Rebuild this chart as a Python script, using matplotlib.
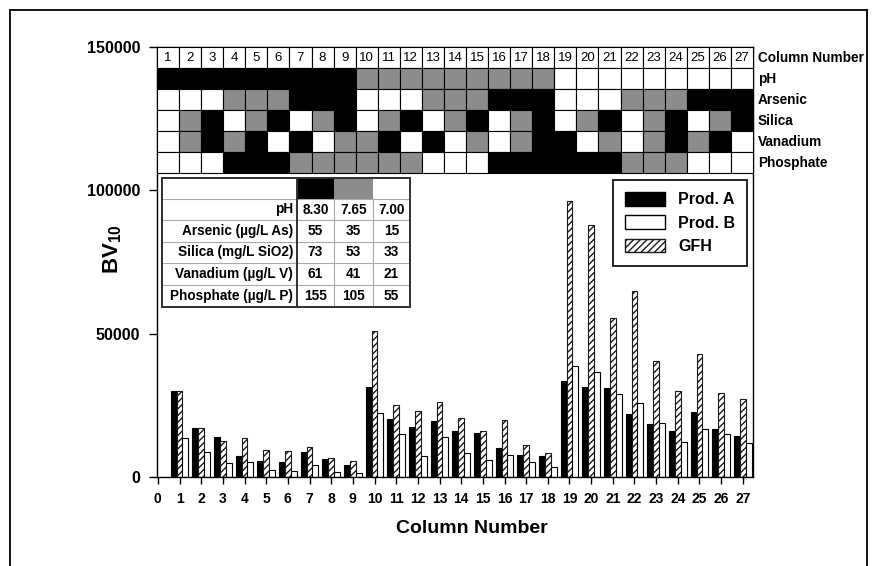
import matplotlib
matplotlib.use('Agg')
import matplotlib.pyplot as plt
import matplotlib.transforms as mtransforms
from matplotlib.patches import Rectangle, Patch
from matplotlib.lines import Line2D
import numpy as np

plt.rcParams['font.family'] = ['Liberation Sans', 'DejaVu Sans']
plt.rcParams['hatch.linewidth'] = 1.0
plt.rcParams['mathtext.default'] = 'regular'

# bar data (BV10)
columns = list(range(1, 28))
prod_a = [30100, 17200, 14100, 7300, 5700, 5100, 8600, 6200, 4100,
          31500, 20100, 17600, 19400, 16200, 15200, 10200, 7700, 7300,
          33500, 31300, 30900, 22000, 18400, 16200, 22700, 16700, 14300]
gfh = [30100, 17200, 12700, 13500, 9400, 9200, 10400, 6700, 5600,
       51000, 25200, 23100, 26300, 20700, 16000, 19900, 11200, 8500,
       96300, 87900, 55300, 65000, 40500, 30000, 42800, 29400, 27200]
prod_b = [13500, 8800, 4800, 5100, 2400, 2200, 4300, 1700, 1400,
          22200, 15000, 7300, 14100, 8500, 5900, 7800, 5100, 3400,
          38800, 36700, 29100, 25900, 18700, 12200, 16700, 15000, 11700]

# design matrix: 2 = high (black), 1 = mid (grey), 0 = low (white)
factors = ['pH', 'Arsenic', 'Silica', 'Vanadium', 'Phosphate']
ph =        [2, 2, 2, 2, 2, 2, 2, 2, 2, 1, 1, 1, 1, 1, 1, 1, 1, 1, 0, 0, 0, 0, 0, 0, 0, 0, 0]
arsenic =   [0, 0, 0, 1, 1, 1, 2, 2, 2, 0, 0, 0, 1, 1, 1, 2, 2, 2, 0, 0, 0, 1, 1, 1, 2, 2, 2]
silica =    [0, 1, 2, 0, 1, 2, 0, 1, 2, 0, 1, 2, 0, 1, 2, 0, 1, 2, 0, 1, 2, 0, 1, 2, 0, 1, 2]
vanadium =  [0, 1, 2, 1, 2, 0, 2, 0, 1, 1, 2, 0, 2, 0, 1, 0, 1, 2, 2, 0, 1, 0, 1, 2, 1, 2, 0]
phosphate = [0, 0, 0, 2, 2, 2, 1, 1, 1, 1, 1, 1, 0, 0, 0, 2, 2, 2, 2, 2, 2, 1, 1, 1, 0, 0, 0]
levels = [ph, arsenic, silica, vanadium, phosphate]

# inset table
table_rows = ['pH', 'Arsenic (\u00b5g/L As)', 'Silica (mg/L SiO2)',
              'Vanadium (\u00b5g/L V)', 'Phosphate (\u00b5g/L P)']
table_vals = [['8.30', '7.65', '7.00'],
              ['55', '35', '15'],
              ['73', '53', '33'],
              ['61', '41', '21'],
              ['155', '105', '55']]

level_colors = {2: 'black', 1: '#8c8c8c', 0: 'white'}

W, H = 873, 566
fig = plt.figure(figsize=(W / 100, H / 100), dpi=100)
ax = fig.add_axes([157 / W, 1 - 477 / H, 596 / W, 430 / H])

x = np.array(columns)
w = 0.27
ax.bar(x - w, prod_a, w, color='black', edgecolor='black', linewidth=0.8, zorder=2)
ax.bar(x, gfh, w, color='white', edgecolor='#1a1a1a', hatch='/////', linewidth=0.8, zorder=2)
ax.bar(x + w, prod_b, w, color='white', edgecolor='black', linewidth=0.8, zorder=2)

ax.set_xlim(-0.04, 27.47)
ax.set_ylim(0, 150000)
ax.set_xticks(range(0, 28))
ax.set_xticklabels([str(i) for i in range(0, 28)], fontsize=10, fontweight='bold')
ax.set_yticks([0, 50000, 100000, 150000])
ax.set_yticklabels(['0', '50000', '100000', '150000'], fontsize=11.5, fontweight='bold')
ax.tick_params(axis='x', direction='out', length=5, width=1, pad=6)
ax.tick_params(axis='y', direction='out', length=6, width=1, pad=6)
for s in ax.spines.values():
    s.set_linewidth(1.0)

ax.set_xlabel('Column Number', fontsize=14, fontweight='bold')
ax.xaxis.set_label_coords(0.528, -0.1)
ax.set_ylabel('BV$_{10}$', fontsize=16, fontweight='bold')
ax.yaxis.set_label_coords(-0.055, 0.53)

# matrix on top of the plot
blend = mtransforms.blended_transform_factory(ax.transAxes, ax.transData)
row_h = 7350
top = 150000
cw = 1 / 27
for j, col in enumerate(columns):
    ax.add_patch(Rectangle((j * cw, top - row_h), cw, row_h, transform=blend,
                           facecolor='white', edgecolor='black', linewidth=0.8,
                           zorder=3, clip_on=False))
    ax.text((j + 0.5) * cw, top - row_h / 2, str(col), transform=blend,
            ha='center', va='center', fontsize=9.5, zorder=4)
    for i, lv in enumerate(levels):
        y0 = top - (i + 2) * row_h
        ax.add_patch(Rectangle((j * cw, y0), cw, row_h, transform=blend,
                               facecolor=level_colors[lv[j]], edgecolor='black',
                               linewidth=0.8, zorder=3, clip_on=False))

row_labels = ['Column Number'] + factors
for i, lab in enumerate(row_labels):
    ax.text(1.008, top - (i + 0.5) * row_h, lab, transform=blend,
            ha='left', va='center', fontsize=9.8, fontweight='bold')

# inset table (pixel layout converted to axes fraction)
def fx(px):
    return (px - 157) / 596

def fy(py):
    return (477 - py) / 430

col_px = [161.7, 296.7, 334, 372.7, 410]
row_px = [178, 199, 220, 241.7, 263, 285, 306.7]
ax.add_patch(Rectangle((fx(col_px[0]), fy(row_px[-1])), fx(col_px[-1]) - fx(col_px[0]),
                       fy(row_px[0]) - fy(row_px[-1]), transform=ax.transAxes,
                       facecolor='white', edgecolor='#333333', linewidth=1.4, zorder=5))
for k, lv in enumerate([2, 1, 0]):
    ax.add_patch(Rectangle((fx(col_px[k + 1]), fy(row_px[1])), fx(col_px[k + 2]) - fx(col_px[k + 1]),
                           fy(row_px[0]) - fy(row_px[1]), transform=ax.transAxes,
                           facecolor=level_colors[lv], edgecolor='none', zorder=5))
for py in row_px[1:-1]:
    ax.add_line(Line2D([fx(col_px[0]), fx(col_px[-1])], [fy(py), fy(py)], transform=ax.transAxes,
                       color='#aaaaaa', linewidth=0.8, zorder=6))
for px in col_px[2:-1]:
    ax.add_line(Line2D([fx(px), fx(px)], [fy(row_px[1]), fy(row_px[-1])], transform=ax.transAxes,
                       color='#aaaaaa', linewidth=0.8, zorder=6))
ax.add_line(Line2D([fx(col_px[1]), fx(col_px[1])], [fy(row_px[0]), fy(row_px[-1])],
                   transform=ax.transAxes, color='#333333', linewidth=1.4, zorder=6))
ax.add_patch(Rectangle((fx(col_px[0]), fy(row_px[-1])), fx(col_px[-1]) - fx(col_px[0]),
                       fy(row_px[0]) - fy(row_px[-1]), transform=ax.transAxes,
                       facecolor='none', edgecolor='#333333', linewidth=1.4, zorder=7))
for r, (name, vals) in enumerate(zip(table_rows, table_vals)):
    yc = (fy(row_px[r + 1]) + fy(row_px[r + 2])) / 2
    ax.text(fx(col_px[1]) - 0.006, yc, name, transform=ax.transAxes, ha='right', va='center',
            fontsize=9.8, fontweight='bold', zorder=8)
    for c, v in enumerate(vals):
        xc = (fx(col_px[c + 1]) + fx(col_px[c + 2])) / 2
        ax.text(xc, yc, v, transform=ax.transAxes, ha='center', va='center',
                fontsize=9.8, fontweight='bold', zorder=8)

# legend
handles = [Patch(facecolor='black', edgecolor='black'),
           Patch(facecolor='white', edgecolor='black'),
           Patch(facecolor='white', edgecolor='#1a1a1a', hatch='/////')]
leg = ax.legend(handles, ['Prod. A', 'Prod. B', 'GFH'], loc='upper right',
                bbox_to_anchor=(0.99, 0.69), borderaxespad=0,
                prop={'weight': 'bold', 'size': 11.5}, fancybox=False,
                edgecolor='black', framealpha=1, handlelength=2.5,
                handleheight=0.9, labelspacing=0.5, borderpad=0.75)
leg.get_frame().set_linewidth(1.2)
leg.set_zorder(9)

# outer frame
for xs, ys in [([10 / W, 10 / W], [0, 1 - 10 / H]),
               ([10 / W, 867 / W], [1 - 10 / H, 1 - 10 / H]),
               ([867 / W, 867 / W], [0, 1 - 10 / H])]:
    fig.add_artist(Line2D(xs, ys, transform=fig.transFigure, color='black', linewidth=1.3))

fig.savefig('out.png', dpi=100)
